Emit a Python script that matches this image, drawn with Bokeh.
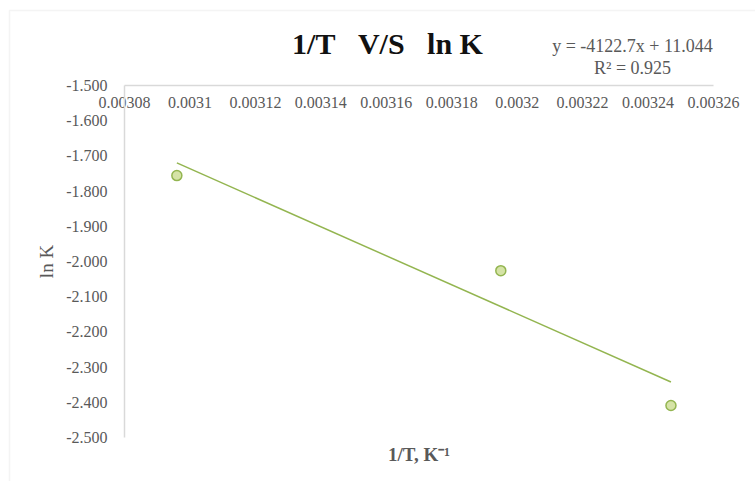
from bokeh.plotting import figure
from bokeh.models import (Range1d, FixedTicker, CustomJSTickFormatter, LinearAxis,
                          Label, BoxAnnotation)
from bokeh.embed import file_html
from bokeh.resources import INLINE

# ---- data ----
inv_T = [0.003096, 0.003195, 0.003247]
ln_K = [-1.756, -2.026, -2.409]
slope = -4122.7
intercept = 11.044
r_squared = 0.925

x_ticks = [0.00308, 0.0031, 0.00312, 0.00314, 0.00316, 0.00318, 0.0032, 0.00322, 0.00324, 0.00326]
x_tick_labels = ["0.00308", "0.0031", "0.00312", "0.00314", "0.00316", "0.00318", "0.0032", "0.00322", "0.00324", "0.00326"]
y_ticks = [-1.5, -1.6, -1.7, -1.8, -1.9, -2.0, -2.1, -2.2, -2.3, -2.4, -2.5]
y_tick_labels = ["-1.500", "-1.600", "-1.700", "-1.800", "-1.900", "-2.000", "-2.100", "-2.200", "-2.300", "-2.400", "-2.500"]

title_text = "1/T\u00a0\u00a0\u00a0V/S\u00a0\u00a0\u00a0ln K"
x_title = "1/T, K\u207b\u00b9"
y_title = "ln K"
eq_text = "y = %.1fx + %.3f" % (slope, intercept)
r2_text = "R\u00b2 = %.3f" % r_squared

# ---- layout (pixels) ----
W, H = 755, 481
PL, PR, PT, PB = 124, 713, 85, 437   # plot-area edges on the page

FONT = "Liberation Serif"
GRAY = "#595959"
AXIS = "#d9d9d9"
GREEN = "#93b550"

x0, x1 = x_ticks[0], x_ticks[-1]
y_top, y_bot = y_ticks[0], y_ticks[-1]
kx = (x1 - x0) / (PR - PL)
ky = (y_top - y_bot) / (PB - PT)
x_range = Range1d(x0 - PL * kx, x1 + (W - PR) * kx)
y_range = Range1d(y_bot - (H - PB) * ky, y_top + PT * ky)

p = figure(width=W, height=H, x_range=x_range, y_range=y_range,
           output_backend="svg", toolbar_location=None,
           min_border_left=0, min_border_right=0, min_border_top=0, min_border_bottom=0)
p.grid.visible = False
p.outline_line_color = None
p.background_fill_color = "white"
p.border_fill_color = "white"

# chart border
p.add_layout(BoxAnnotation(left=9, right=W + 20, top=H - 10, bottom=-20,
                           left_units="screen", right_units="screen",
                           top_units="screen", bottom_units="screen",
                           fill_alpha=0, line_color=AXIS, line_width=1.5))

# x axis crossing at y = -1.5 (top of plot area)
xa = p.xaxis[0]
xa.fixed_location = y_top
xa.bounds = (x0, x1)
xa.ticker = FixedTicker(ticks=x_ticks)
xa.formatter = CustomJSTickFormatter(args=dict(labels=x_tick_labels), code="return labels[index];")
xa.axis_line_color = AXIS
xa.axis_line_width = 1.5
xa.major_tick_line_color = None
xa.minor_tick_line_color = None
xa.major_tick_out = 0
xa.major_label_standoff = 11
xa.major_label_text_font = FONT
xa.major_label_text_font_size = "16px"
xa.major_label_text_color = GRAY

# x axis title below plot area
xt = LinearAxis(ticker=FixedTicker(ticks=[]), axis_label=x_title)
xt.fixed_location = y_bot
xt.bounds = (x0, x1)
xt.axis_line_color = None
xt.major_tick_line_color = None
xt.minor_tick_line_color = None
xt.major_tick_out = 0
xt.major_label_standoff = 0
xt.axis_label_standoff = 6
xt.axis_label_text_font = FONT
xt.axis_label_text_font_size = "19px"
xt.axis_label_text_font_style = "bold"
xt.axis_label_text_color = GRAY
p.add_layout(xt, "below")

ya = p.yaxis[0]
ya.fixed_location = x0
ya.bounds = (y_bot, y_top)
ya.ticker = FixedTicker(ticks=y_ticks)
ya.formatter = CustomJSTickFormatter(args=dict(labels=y_tick_labels), code="return labels[index];")
ya.axis_line_color = AXIS
ya.axis_line_width = 1.5
ya.major_tick_line_color = None
ya.minor_tick_line_color = None
ya.major_tick_out = 0
ya.major_label_standoff = 17
ya.major_label_text_font = FONT
ya.major_label_text_font_size = "16px"
ya.major_label_text_color = GRAY
ya.axis_label = y_title
ya.axis_label_standoff = 6
ya.axis_label_text_font = FONT
ya.axis_label_text_font_size = "19px"
ya.axis_label_text_font_style = "normal"
ya.axis_label_text_color = GRAY

# trendline from fit
x_fit = [min(inv_T), max(inv_T)]
y_fit = [slope * v + intercept for v in x_fit]
p.line(x_fit, y_fit, line_color=GREEN, line_width=1.5)

p.scatter(inv_T, ln_K, size=10, marker="circle", fill_color="#d5e3a6",
          line_color=GREEN, line_width=1.5)

# chart title and trendline label (screen units from bottom-left)
p.add_layout(Label(x=387, y=H - 43, x_units="screen", y_units="screen", text=title_text,
                   text_font=FONT, text_font_size="30px", text_font_style="bold",
                   text_color="#111111", text_align="center", text_baseline="middle"))
p.add_layout(Label(x=632, y=H - 45, x_units="screen", y_units="screen", text=eq_text,
                   text_font=FONT, text_font_size="18px", text_color=GRAY,
                   text_align="center", text_baseline="middle"))
p.add_layout(Label(x=632, y=H - 67, x_units="screen", y_units="screen", text=r2_text,
                   text_font=FONT, text_font_size="18px", text_color=GRAY,
                   text_align="center", text_baseline="middle"))

open("out.html", "w").write(file_html(p, INLINE))
